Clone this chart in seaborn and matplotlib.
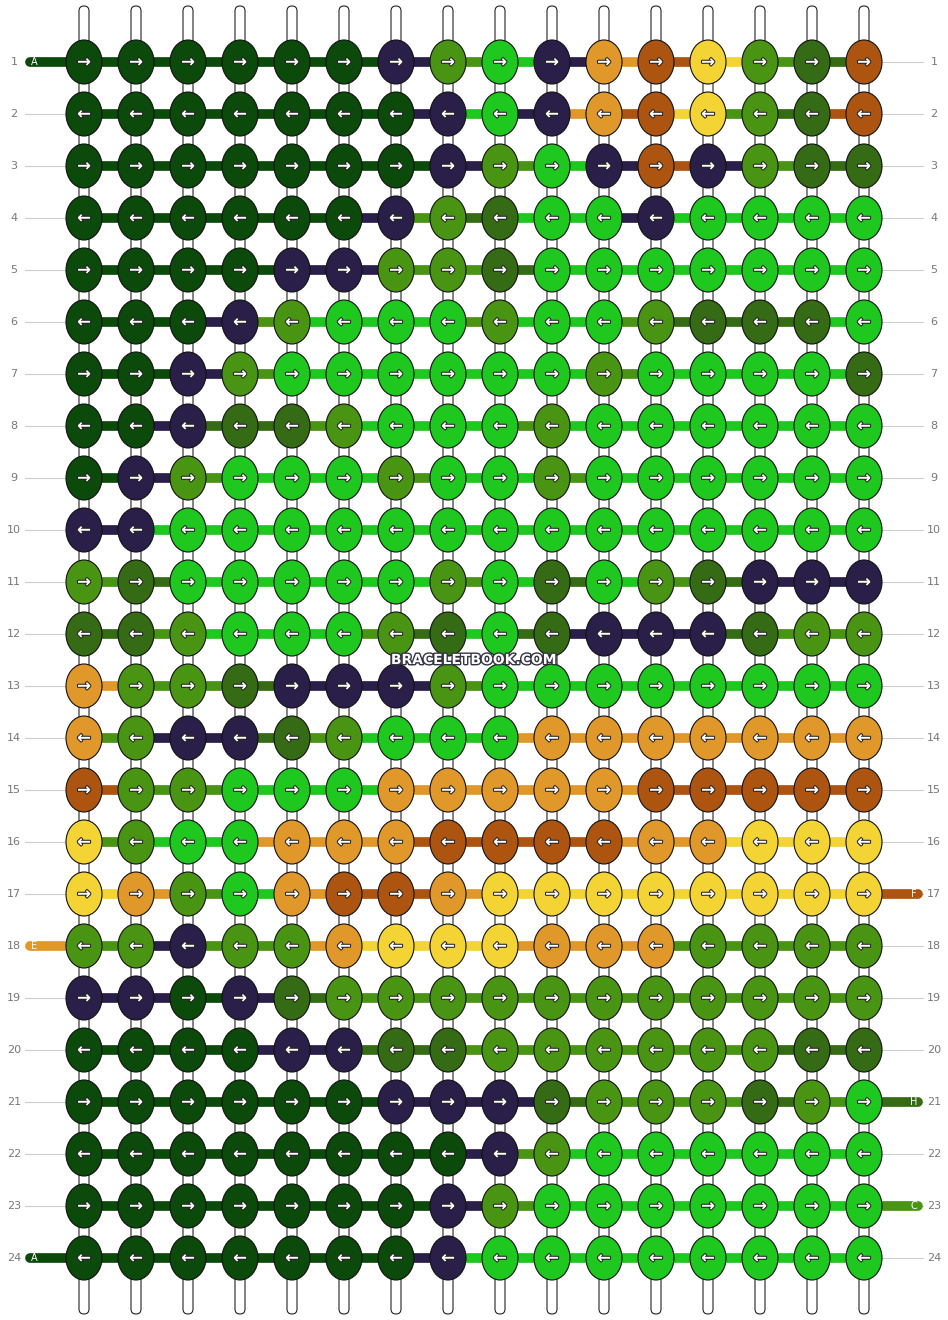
import numpy as np
import pandas as pd
import matplotlib
matplotlib.use("Agg")
import matplotlib.pyplot as plt
import matplotlib.patheffects as pe
from matplotlib.patches import Ellipse, FancyBboxPatch
import seaborn as sns

# thread colours
palette = {
    'D': '#0b4a0b', 'P': '#2a1f48', 'G': '#4a9414', 'L': '#1ec81e',
    'O': '#e0982a', 'B': '#ad5510', 'Y': '#f4d434', 'M': '#356b14',
}

# knot colours, one string per row (16 knots)
rows = [
    "DDDDDDPGLPOBYGMB",
    "DDDDDDDPLPOBYGMB",
    "DDDDDDDPGLPBPGMM",
    "DDDDDDPGMLLPLLLL",
    "DDDDPPGGMLLLLLLL",
    "DDDPGLLLGLLGMMML",
    "DDPGLLLLLLGLLLLM",
    "DDPMMGLLLGLLLLLL",
    "DPGLLLGLLGLLLLLL",
    "PPLLLLLLLLLLLLLL",
    "GMLLLLLGLMLGMPPP",
    "MMGLLLGMLMPPPMGG",
    "OGGMPPPGLLLLLLLL",
    "OGPPMGLLLOOOOOOO",
    "BGGLLLOOOOOBBBBB",
    "YGLLOOOBBBBOOYYY",
    "YOGLOBBOYYYYYYYY",
    "GGPGGOYYYOOOGGGG",
    "PPDPMGGGGGGGGGGG",
    "DDDDPPMMGGGGGGMM",
    "DDDDDDPPPMGGGMGL",
    "DDDDDDDDPGLLLLLL",
    "DDDDDDDPGLLLLLLL",
    "DDDDDDDPLLLLLLLL",
]
row_numbers = list(range(1, 25))
left_labels = {1: ('A', 'D'), 18: ('E', 'O'), 24: ('A', 'D')}
right_labels = {17: ('F', 'B'), 21: ('H', 'M'), 23: ('C', 'G')}

x0, dx, y0, dy = 84, 52, 62, 52
cols = np.arange(16)

sns.set_theme(style="white")
fig = plt.figure(figsize=(9.48, 13.2), dpi=100)
ax = fig.add_axes([0, 0, 1, 1])
ax.set_xlim(0, 948)
ax.set_ylim(1320, 0)
ax.axis('off')

# guide lines and row numbers
for r in row_numbers:
    y = y0 + (r - 1) * dy
    ax.plot([25, 923], [y, y], color='#cccccc', lw=0.8, zorder=0)
    ax.text(14, y, str(r), ha='center', va='center', fontsize=8, color='#777777')
    ax.text(934, y, str(r), ha='center', va='center', fontsize=8, color='#777777')

# vertical strings
for c in cols:
    x = x0 + c * dx
    ax.add_patch(FancyBboxPatch((x - 5, 6), 10, 1308, boxstyle="round,pad=0,rounding_size=5",
                                fc='white', ec='#222222', lw=0.8, zorder=1))

# threads along each row
for i, row in enumerate(rows):
    y = y0 + i * dy
    for c in range(15):
        col = row[c] if i % 2 == 0 else row[c + 1]
        sns.lineplot(x=[x0 + c * dx, x0 + (c + 1) * dx], y=[y, y], color=palette[col],
                     lw=7, ax=ax, zorder=2, legend=False)

# edge threads
for r, (lab, col) in left_labels.items():
    y = y0 + (r - 1) * dy
    ax.plot([30, x0], [y, y], color=palette[col], lw=7, solid_capstyle='round', zorder=2)
    ax.text(34, y, lab, ha='center', va='center', fontsize=7, color='white')
for r, (lab, col) in right_labels.items():
    y = y0 + (r - 1) * dy
    ax.plot([x0 + 15 * dx, 918], [y, y], color=palette[col], lw=7, solid_capstyle='round', zorder=2)
    ax.text(914, y, lab, ha='center', va='center', fontsize=7, color='white')

# knots
for i, row in enumerate(rows):
    y = y0 + i * dy
    arrow = '→' if i % 2 == 0 else '←'
    for c, k in enumerate(row):
        x = x0 + c * dx
        ax.add_patch(Ellipse((x, y), 36, 44, fc=palette[k], ec='#111111', lw=0.8, zorder=3))
        ax.text(x, y, arrow, ha='center', va='center', fontsize=12, color='white',
                fontweight='bold', zorder=4,
                path_effects=[pe.withStroke(linewidth=1.5, foreground='#222222')])

ax.text(474, 660, 'BRACELETBOOK.COM', ha='center', va='center', fontsize=10,
        color='white', fontweight='bold', zorder=5,
        path_effects=[pe.withStroke(linewidth=2, foreground='#333344')])

fig.savefig('out.png', dpi=100)
